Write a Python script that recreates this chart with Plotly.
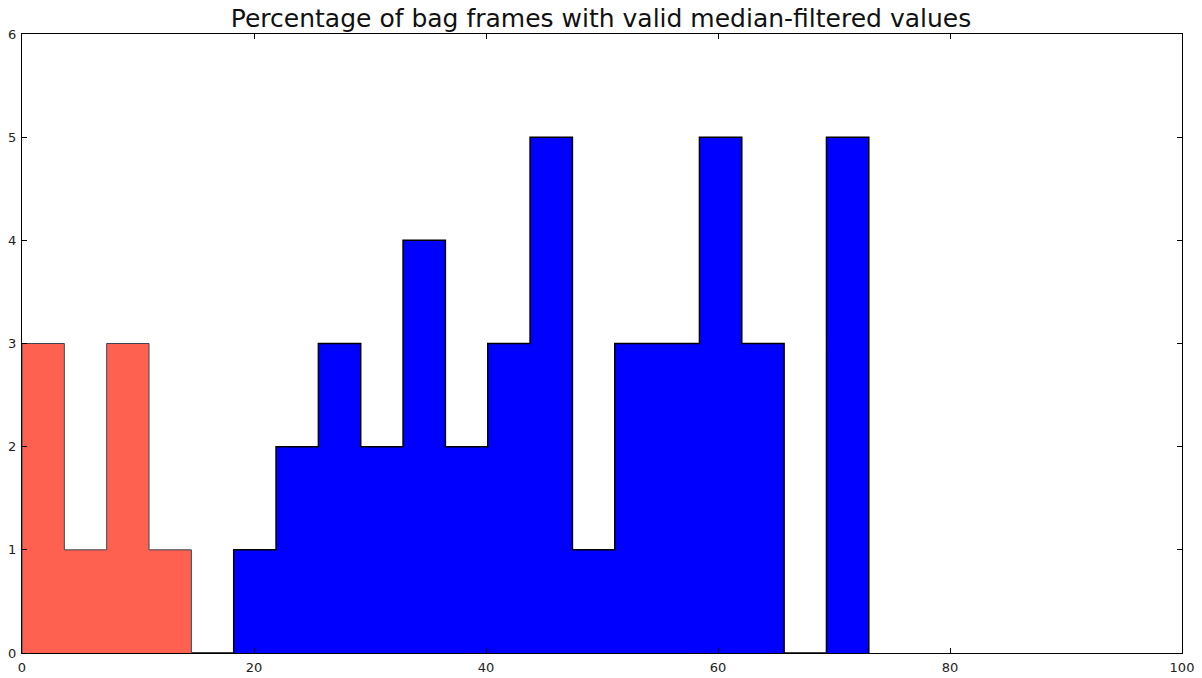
import numpy as np
import plotly.graph_objects as go

# 20 equal-width bins spanning 0 .. 73 (percent)
bin_edges = list(np.linspace(0, 73, 21))

# counts per bin for frames with a low share of valid values (first four bins)
low_counts = [3, 1, 3, 1]
# counts per bin for the whole histogram
all_counts = [3, 1, 3, 1, 0, 1, 2, 3, 2, 4, 2, 3, 5, 1, 3, 3, 5, 3, 0, 5]

title_text = "Percentage of bag frames with valid median-filtered values"
x_ticks = [0, 20, 40, 60, 80, 100]
y_ticks = [0, 1, 2, 3, 4, 5, 6]


def step_outline(edges, counts):
    """Closed stepfilled outline: up from the first edge, across each bin, down at the end."""
    xs = [edges[0]] + list(edges[:len(counts) + 1]) + [edges[len(counts)]]
    ys = [0] + list(counts) + [counts[-1], 0]
    return xs, ys


fig = go.Figure()

bx, by = step_outline(bin_edges, [0] * len(low_counts) + all_counts[len(low_counts):])
fig.add_trace(go.Scatter(
    x=bx, y=by, mode="lines", line=dict(shape="hv", color="black", width=1.5),
    fill="tozeroy", fillcolor="#0000FF", hoverinfo="skip", showlegend=False,
))

rx, ry = step_outline(bin_edges, low_counts)
fig.add_trace(go.Scatter(
    x=rx, y=ry, mode="lines", line=dict(shape="hv", color="#3a4455", width=1),
    fill="tozeroy", fillcolor="#FF6150", hoverinfo="skip", showlegend=False,
))

axis_common = dict(
    showgrid=False, zeroline=False, showline=True, linecolor="black", linewidth=1.2,
    mirror="ticks", ticks="inside", ticklen=5, tickcolor="black", tickwidth=1,
    tickfont=dict(family="DejaVu Sans", size=13, color="#222222"),
    automargin=False,
)

fig.update_layout(
    width=1202, height=678,
    margin=dict(l=22, r=20, t=34, b=25),
    paper_bgcolor="white", plot_bgcolor="white",
    title=dict(text=title_text, x=0.5, xanchor="center", y=0.973, yanchor="middle",
               font=dict(family="DejaVu Sans", size=25, color="#111111")),
    xaxis=dict(range=[0, 100], tickvals=x_ticks, ticklabelstandoff=2, **axis_common),
    yaxis=dict(range=[0, 6], tickvals=y_ticks, ticklabelstandoff=2, **axis_common),
)

fig.write_html("out.html")
